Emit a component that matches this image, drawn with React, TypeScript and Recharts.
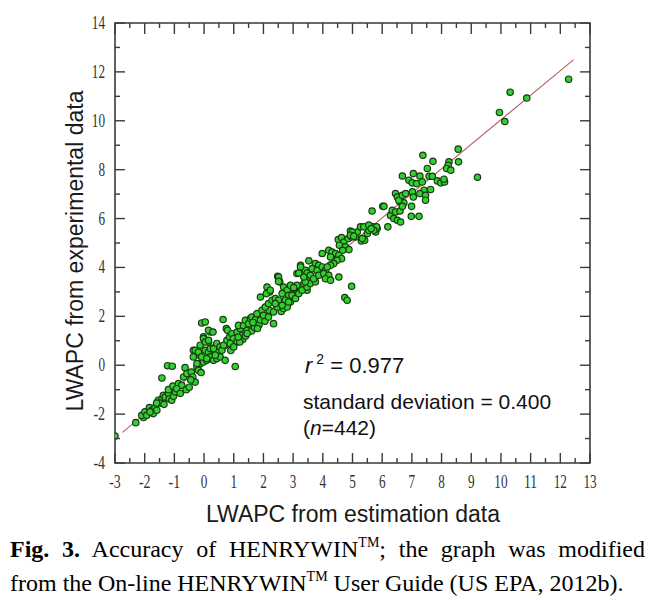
import React from 'react';
import { ScatterChart, Scatter, XAxis, YAxis, ReferenceLine, ReferenceArea } from 'recharts';

// ---- tick values ----
const X_TICKS = [-3, -2.5, -2, -1.5, -1, -0.5, 0, 0.5, 1, 1.5, 2, 2.5, 3, 3.5, 4, 4.5, 5, 5.5, 6, 6.5, 7, 7.5, 8, 8.5, 9, 9.5, 10, 10.5, 11, 11.5, 12, 12.5, 13];
const Y_TICKS = [-4, -3, -2, -1, 0, 1, 2, 3, 4, 5, 6, 7, 8, 9, 10, 11, 12, 13, 14];

// ---- regression line end points (estimation, experimental) ----
const FIT_START = { x: -2.75, y: -2.75 };
const FIT_END = { x: 12.45, y: 12.5 };

// ---- data points [LWAPC estimation, LWAPC experimental] ----
const PTS_LOW: [number, number][] = [
  [-3.0, -2.9], [-2.3, -2.35],
  [-2.04, -2.14], [-2.1, -2.05], [-1.99, -1.91], [-1.93, -2.05],
  [-1.84, -1.73], [-1.76, -1.84], [-1.71, -1.98], [-1.82, -1.91], [-1.65, -1.73], [-1.59, -1.84],
  [-1.54, -1.43], [-1.42, -1.37], [-1.37, -1.23], [-1.31, -1.3], [-1.48, -1.55], [-1.35, -1.6], [-1.6, -1.55],
  [-1.2, -1.16], [-1.17, -1.37], [-1.09, -1.43], [-1.03, -1.27], [-0.97, -1.09], [-1.2, -1.0], [-1.05, -0.85],
  [-0.86, -0.75], [-0.75, -0.82], [-0.6, -1.0], [-0.92, -0.96], [-0.8, -1.15], [-0.5, -0.9],
  [-1.42, -0.52], [-1.23, -0.02], [-1.07, -0.04], [-0.64, -0.1],
  [-0.69, -0.48], [-0.58, -0.34], [-0.43, -0.28], [-0.38, -0.48], [-0.3, -0.69], [-0.45, -0.6],
  [-0.24, -0.07], [-0.13, 0.07], [-0.02, 0.13], [-0.19, -0.21], [-0.1, -0.3],
  [-0.36, 0.61], [-0.13, 0.82], [-0.15, 0.41], [-0.02, 1.16], [0.15, 0.95], [0.21, 1.36],
  [0.04, 0.61], [0.15, 0.54], [0.26, 0.68], [0.38, 0.48], [0.21, 0.34], [0.09, 0.2], [0.32, 0.2],
  [0.43, 0.27], [0.54, 0.34], [0.49, 0.61], [0.6, 0.68], [0.41, 0.82], [0.71, 0.82], [0.71, 0.2],
  [-0.08, 1.73], [0.04, 1.77], [0.15, 1.43], [0.3, 1.36], [0.64, 1.87], [0.75, 1.5], [0.79, 1.43],
  [-0.02, 1.09], [0.04, 0.95], [0.15, 1.02], [0.21, 0.68], [0.32, 0.68], [0.43, 0.89], [0.54, 0.75],
  [-0.3, 0.61], [-0.19, 0.54], [-0.36, 0.34], [-0.08, 0.34], [0.09, 0.27], [-0.24, 0.07],
  [0.38, 0.41], [0.6, 0.61], [0.66, 0.82], [1.05, -0.05], [0.9, 0.6],
];

const PTS_MID: [number, number][] = [
  [0.77, 1.02], [0.86, 1.16], [0.94, 1.29], [0.99, 1.09], [1.11, 1.36], [1.22, 1.5], [1.16, 1.63],
  [1.33, 1.63], [1.39, 1.84], [1.5, 1.7], [1.56, 1.91], [1.61, 1.97], [1.73, 1.87], [1.78, 2.11],
  [1.45, 1.43], [1.28, 1.22], [1.11, 0.95], [0.88, 0.89], [1.0, 0.75], [1.3, 1.05], [1.2, 0.95],
  [1.6, 1.4], [1.7, 1.55], [1.85, 1.65], [1.9, 1.85], [2.05, 1.8], [1.4, 1.2], [1.15, 1.15],
  [1.45, 1.3], [1.65, 1.75], [1.8, 1.5], [2.2, 2.25], [2.6, 2.2],
  [1.9, 2.79], [2.12, 3.2], [2.21, 3.0], [2.1, 2.93], [2.48, 3.64], [2.55, 3.41],
  [1.95, 2.25], [2.06, 2.38], [2.17, 2.52], [2.29, 2.66], [2.0, 2.04], [2.17, 1.97], [2.34, 2.18],
  [2.46, 2.38], [2.51, 2.59], [2.4, 2.73], [2.34, 1.7],
  [2.68, 3.2], [2.8, 3.07], [2.91, 3.27], [3.02, 3.14], [2.85, 2.86], [2.74, 2.66], [2.91, 2.59],
  [3.02, 2.79], [3.13, 2.93], [3.25, 3.07], [2.68, 2.32], [2.8, 2.38], [2.63, 2.93],
  [3.25, 4.09], [3.41, 3.88], [3.13, 3.75], [3.47, 3.54], [3.36, 3.34], [3.47, 3.07],
  [2.51, 3.61], [2.51, 3.43], [2.23, 3.07], [2.96, 2.86], [2.51, 2.66], [2.4, 2.52], [2.63, 2.45],
  [2.85, 2.59], [3.08, 2.73], [3.19, 2.93], [3.3, 3.07], [3.13, 3.27], [3.02, 3.18], [3.47, 3.2],
  [3.58, 3.34], [3.75, 3.41], [3.41, 3.41],
];

const PTS_UPPER: [number, number][] = [
  [3.53, 4.27], [3.75, 4.16], [3.86, 4.09], [3.25, 4.02], [3.64, 3.95], [3.81, 3.88], [3.98, 4.02],
  [4.09, 3.88], [3.19, 3.77], [3.47, 3.77], [3.58, 3.68], [3.69, 3.54], [3.36, 3.61], [3.86, 3.68],
  [4.03, 3.75], [4.2, 3.68], [4.09, 3.54], [4.26, 3.48],
  [3.98, 4.57], [4.2, 4.7], [4.31, 4.63], [4.43, 4.57], [4.26, 4.43], [4.54, 4.5], [4.63, 4.36],
  [4.48, 4.29], [4.37, 4.16], [4.26, 4.09], [4.15, 4.02],
  [4.52, 5.14], [4.63, 5.22], [4.71, 5.04], [4.56, 4.91], [4.76, 4.84], [4.88, 4.73], [4.67, 4.7],
  [4.54, 3.61], [4.97, 3.23], [4.74, 2.77], [4.82, 2.66],
  [4.86, 5.18], [4.97, 5.25], [5.1, 5.25], [4.93, 5.49], [5.04, 5.39], [5.16, 5.45], [5.27, 5.66],
  [5.3, 5.08], [5.41, 5.11], [5.5, 5.39], [5.55, 5.52], [5.69, 5.66], [5.78, 5.45], [5.83, 5.59],
  [5.38, 5.66], [5.55, 5.73], [4.99, 5.45], [4.93, 5.32], [5.04, 5.28], [5.33, 5.18],
  [5.66, 6.31], [6.02, 6.5],
];

const PTS_HIGH: [number, number][] = [
  [5.81, 5.66], [5.72, 5.52], [5.63, 5.59], [6.19, 5.66],
  [6.28, 6.13], [6.39, 6.0], [6.51, 5.93], [6.62, 5.86], [6.98, 6.09], [7.24, 6.09],
  [6.34, 6.34], [6.45, 6.27], [6.6, 6.31], [6.06, 6.5],
  [6.6, 6.68], [6.73, 6.64], [6.68, 6.5], [6.99, 6.5],
  [6.45, 7.02], [6.51, 6.88], [6.56, 6.75], [6.68, 6.95], [6.79, 7.02], [7.02, 7.09], [7.05, 6.88],
  [7.41, 7.16], [7.63, 7.19], [7.27, 7.02], [7.46, 6.95], [7.46, 6.75],
  [6.68, 7.74], [7.05, 7.84], [7.27, 7.74], [7.58, 7.73], [7.69, 7.73], [6.9, 7.57], [7.01, 7.46],
  [7.16, 7.43], [7.35, 7.5], [7.86, 7.54], [7.97, 7.46], [8.1, 7.5],
  [7.37, 8.59], [7.71, 8.34], [7.52, 8.05], [8.56, 8.84], [8.57, 8.32], [8.25, 8.32], [8.22, 8.18],
  [8.17, 8.05], [8.31, 7.98], [9.21, 7.69], [8.08, 7.61],
  [12.28, 11.7], [10.31, 11.17], [10.87, 10.93], [9.95, 10.34], [10.13, 9.97],
];

const DATA = [...PTS_LOW, ...PTS_MID, ...PTS_UPPER, ...PTS_HIGH].map(([x, y]) => ({ x, y }));

// ---- layout ----
const W = 640;
const H = 500;
const MARGIN = { top: 15, right: 58, bottom: 15, left: 57 };
const Y_AXIS_W = 50;
const X_AXIS_H = 30;
const PLOT_TOP = MARGIN.top;
const PLOT_RIGHT = W - MARGIN.right;
const AX = '#3a3a3a';
const TICK_FONT = '"Liberation Serif", "Times New Roman", serif';

const labelLen = (s: string) => s.split('').reduce((a, c) => a + (c === '-' ? 5 : 6.6), 0);

const XTick = (props: any) => {
  const { x, y, payload } = props;
  const v = payload.value as number;
  const major = Number.isInteger(v);
  const s = String(v);
  return (
    <g>
      <line x1={x} x2={x} y1={y} y2={y - (major ? 10 : 5)} stroke={AX} strokeWidth={1.4} />
      <line x1={x} x2={x} y1={PLOT_TOP} y2={PLOT_TOP + (major ? 11 : 5)} stroke={AX} strokeWidth={1.4} />
      {major && (
        <text x={x} y={y + 25} textAnchor="middle" fontFamily={TICK_FONT} fontSize={18} fill="#333"
          textLength={labelLen(s)} lengthAdjust="spacingAndGlyphs">{s}</text>
      )}
    </g>
  );
};

const YTick = (props: any) => {
  const { x, y, payload } = props;
  const v = payload.value as number;
  const major = Math.abs(v % 2) === 0;
  const s = String(v);
  return (
    <g>
      <line x1={x} x2={x + (major ? 10 : 5)} y1={y} y2={y} stroke={AX} strokeWidth={1.4} />
      <line x1={PLOT_RIGHT} x2={PLOT_RIGHT - (major ? 10 : 5)} y1={y} y2={y} stroke={AX} strokeWidth={1.4} />
      {major && (
        <text x={x - 10} y={y + 6} textAnchor="end" fontFamily={TICK_FONT} fontSize={18} fill="#333"
          textLength={labelLen(s)} lengthAdjust="spacingAndGlyphs">{s}</text>
      )}
    </g>
  );
};

const Dot = (p: any) => (
  <circle cx={p.cx} cy={p.cy} r={3.2} fill="#30d030" stroke="#1b3a12" strokeWidth={1.2} />
);

const SANS = '"Liberation Sans", Arial, sans-serif';
const SERIF = '"Liberation Serif", "Times New Roman", serif';

export default function App() {
  return (
    <div style={{ position: 'relative', width: 647, height: 593, background: '#fff' }}>
      <ScatterChart width={W} height={H} margin={MARGIN}>
        <XAxis type="number" dataKey="x" domain={[-3, 13]} ticks={X_TICKS} interval={0}
          height={X_AXIS_H} axisLine={false} tickLine={false} tickSize={0} tickMargin={0}
          tick={<XTick />} allowDataOverflow />
        <YAxis type="number" dataKey="y" domain={[-4, 14]} ticks={Y_TICKS} interval={0}
          width={Y_AXIS_W} axisLine={false} tickLine={false} tickSize={0} tickMargin={0}
          tick={<YTick />} allowDataOverflow />
        <ReferenceArea x1={-3} x2={13} y1={-4} y2={14} fill="none" fillOpacity={0}
          stroke={AX} strokeWidth={1.6} ifOverflow="visible" />
        <Scatter data={DATA} shape={Dot} isAnimationActive={false} />
        <ReferenceLine segment={[FIT_START, FIT_END]} stroke="#b5605f" strokeWidth={1.1} ifOverflow="visible" />
      </ScatterChart>

      <svg width={647} height={593} style={{ position: 'absolute', left: 0, top: 0, pointerEvents: 'none' }}>
        <text x={345} y={514} textAnchor="middle" fontFamily={SANS} fontSize={23} fill="#1a1a1a">
          LWAPC from estimation data
        </text>
        <text x={75} y={243} textAnchor="middle" fontFamily={SANS} fontSize={23} fill="#1a1a1a"
          transform="rotate(-90 75 243)">
          LWAPC from experimental data
        </text>
        <text x={297} y={365} fontFamily={SANS} fontSize={22} fill="#111">
          <tspan fontStyle="italic">r</tspan>
          <tspan dx={4} dy={-9} fontSize={14}>2</tspan>
          <tspan dy={9}> = 0.977</tspan>
        </text>
        <text x={295} y={401} fontFamily={SANS} fontSize={21} fill="#111">standard deviation = 0.400</text>
        <text x={295} y={427} fontFamily={SANS} fontSize={21} fill="#111">
          (<tspan fontStyle="italic">n</tspan>=442)
        </text>
      </svg>

      <div style={{ position: 'absolute', left: 2, top: 526, width: 635, fontFamily: SERIF, fontSize: 24, lineHeight: '31px', color: '#000' }}>
        <div style={{ textAlign: 'justify', textAlignLast: 'justify', whiteSpace: 'nowrap' as any }}>
          <b>Fig. 3.</b> Accuracy of HENRYWIN<span style={{ fontSize: 14, position: 'relative', top: -10 }}>TM</span>; the graph was modified
        </div>
        <div>
          from the On-line HENRYWIN<span style={{ fontSize: 14, position: 'relative', top: -10 }}>TM</span> User Guide (US EPA, 2012b).
        </div>
      </div>
    </div>
  );
}
